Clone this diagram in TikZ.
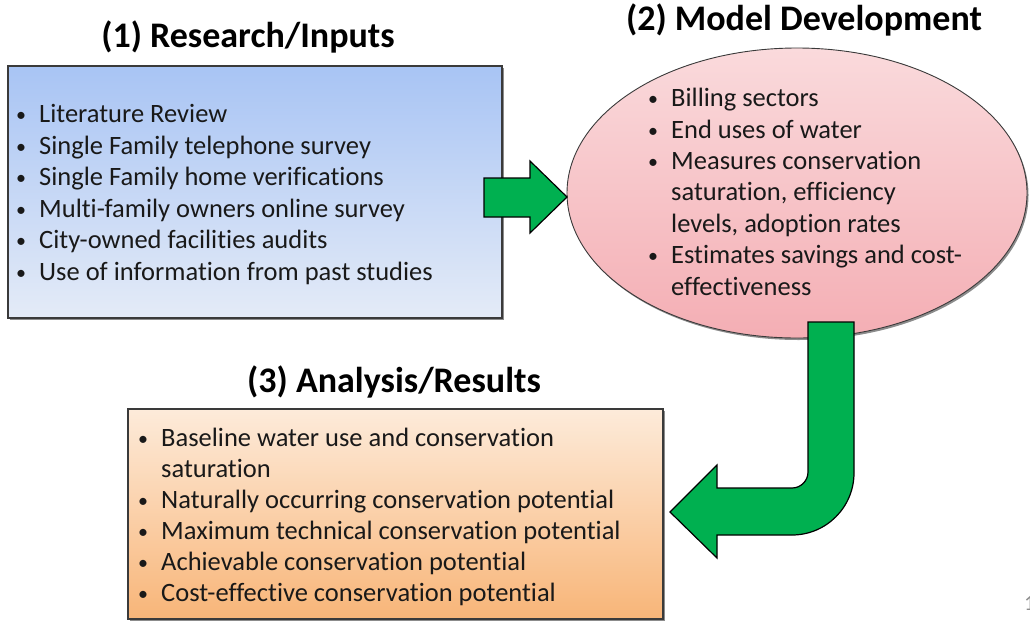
\documentclass[tikz,border=0pt]{standalone}
\usepackage{fontspec}
\setmainfont{Carlito}[RawFeature={-liga;-clig;-dlig}]
\usetikzlibrary{shapes.geometric,shadows}
\definecolor{blueT}{HTML}{A8C4F4}
\definecolor{blueB}{HTML}{E4EBF7}
\definecolor{pinkT}{HTML}{FADADC}
\definecolor{pinkB}{HTML}{F4AEB4}
\definecolor{orangeT}{HTML}{FDEBDA}
\definecolor{orangeB}{HTML}{F8B578}
\definecolor{arrgreen}{HTML}{00B050}
\definecolor{edgegray}{HTML}{3A3A3A}
\newcommand\bul{\makebox[23pt][l]{\raisebox{1pt}{\fontsize{20}{20}\selectfont •}}}
\newcommand\cont{\hspace*{23pt}}
\begin{document}
\begin{tikzpicture}[x=1pt,y=-1pt,
  panel/.style={draw=edgegray, line width=1.1pt, inner sep=0pt,
    drop shadow={shadow xshift=1.5pt, shadow yshift=-2pt, opacity=.45, fill=black}},
  title/.style={font=\fontsize{36}{40}\selectfont\bfseries, anchor=base, inner sep=0pt},
  txt/.style={align=left, anchor=base west, inner sep=0pt, text=black!90},
  blockarrow/.style={draw=black, line width=1.2pt, fill=arrgreen, line join=miter}
]
\useasboundingbox (0,0) rectangle (1030,622);

% panels
\node[panel, rectangle, minimum width=494pt, minimum height=252pt,
  top color=blueT, bottom color=blueB] (box1) at (255,192) {};
\node[panel, ellipse, minimum width=460pt, minimum height=290pt, line width=0.9pt,
  top color=pinkT, bottom color=pinkB] (ell) at (797,193) {};
\node[panel, rectangle, minimum width=535pt, minimum height=210pt,
  top color=orangeT, bottom color=orangeB] (box3) at (395.5,514) {};

% titles
\node[title] (t1) at (248,47) {(1) Research/Inputs};
\node[title] (t2) at (804,30) {(2) Model Development};
\node[title] (t3) at (394,392) {(3) Analysis/Results};

% texts (anchored at the baseline of the last line)
\node[txt, font=\fontsize{26.5}{31.5}\selectfont] (x1) at (16,280) {\bul Literature Review\\
\bul Single Family telephone survey\\
\bul Single Family home verifications\\
\bul Multi-family owners online survey\\
\bul City-owned facilities audits\\
\bul Use of information from past studies};

\node[txt, font=\fontsize{26.5}{31.4}\selectfont] (x2) at (648,295) {\bul Billing sectors\\
\bul End uses of water\\
\bul Measures conservation\\
\cont saturation, efficiency\\
\cont levels, adoption rates\\
\bul Estimates savings and cost-\\
\cont effectiveness};

\node[txt, font=\fontsize{26.5}{31}\selectfont] (x3) at (138,601.7) {\bul Baseline water use and conservation\\
\cont saturation\\
\bul Naturally occurring conservation potential\\
\bul Maximum technical conservation potential\\
\bul Achievable conservation potential\\
\bul Cost-effective conservation potential};

% arrow 1 (research -> model)
\draw[blockarrow] (484,178) -- (530,178) -- (530,161) -- (567,197) -- (530,233) -- (530,217) -- (484,217) -- cycle;

% arrow 2 (model -> analysis), bent
\draw[blockarrow] (808,322) -- (854,322) -- (854,473)
  .. controls (854,507.2) and (826.2,535) .. (792,535)
  -- (717,535) -- (717,558) -- (670,512) -- (717,465) -- (717,488) -- (792,488)
  .. controls (800.8,488) and (808,480.8) .. (808,472) -- cycle;

% page number fragment
\node[font=\fontsize{22}{24}\selectfont, text=black!45, anchor=base west, inner sep=0pt] (pg) at (1024,610) {1};
\end{tikzpicture}
\end{document}
